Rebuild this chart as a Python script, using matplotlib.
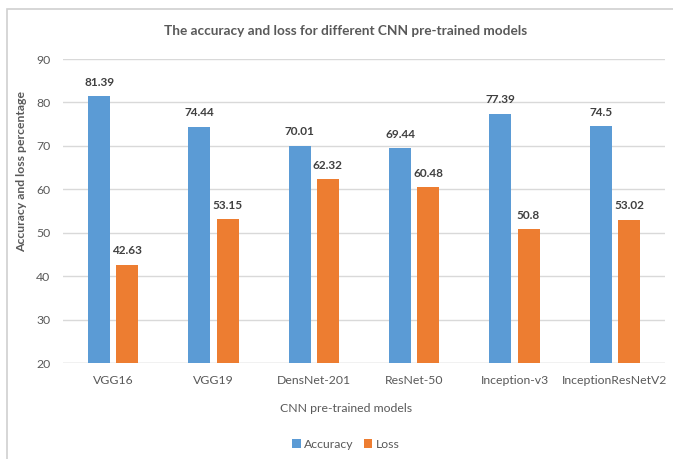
import numpy as np
import matplotlib.pyplot as plt
from matplotlib.patches import Rectangle

models = ["VGG16", "VGG19", "DensNet-201", "ResNet-50", "Inception-v3", "InceptionResNetV2"]
accuracy = [81.39, 74.44, 70.01, 69.44, 77.39, 74.5]
loss = [42.63, 53.15, 62.32, 60.48, 50.8, 53.02]
yticks = [20, 30, 40, 50, 60, 70, 80, 90]

plt.rcParams['font.family'] = ['Lato', 'DejaVu Sans']
text_color = "#595959"
center = 346 / 673

fig = plt.figure(figsize=(6.73, 4.59), dpi=100)
fig.patches.append(Rectangle((7 / 673, -0.1), 1.2, 1 - 9 / 459 + 0.1, transform=fig.transFigure,
                             fill=False, edgecolor="#d0d0d0", linewidth=1.2))
ax = fig.add_axes([63 / 673, 1 - 363 / 459, (665 - 63) / 673, (363 - 59) / 459])

x = np.arange(len(models))
w = 0.22
off = 0.14
b1 = ax.bar(x - off, [a - 20 for a in accuracy], w, bottom=20, color="#5b9bd5", label="Accuracy", zorder=3)
b2 = ax.bar(x + off, [l - 20 for l in loss], w, bottom=20, color="#ed7d31", label="Loss", zorder=3)

for xs, vals in ((x - off, accuracy), (x + off, loss)):
    for xi, v in zip(xs, vals):
        ax.annotate(f"{v:g}", (xi, v), xytext=(0, 6), textcoords="offset points",
                    ha="center", va="bottom", fontsize=8.5, fontweight="bold", color="#404040")

ax.set_xlim(-0.5, len(models) - 0.5)
ax.set_ylim(20, 90)
ax.set_yticks(yticks)
ax.set_xticks(x)
ax.set_xticklabels(models)
ax.tick_params(axis="both", length=0, labelsize=8.8, labelcolor=text_color, pad=9)
ax.grid(axis="y", color="#d9d9d9", linewidth=1, zorder=0)
for s in ax.spines.values():
    s.set_visible(False)
ax.axhline(20, color="#d9d9d9", linewidth=1, zorder=2)

ax.set_xlabel("CNN pre-trained models", fontsize=8.8, color=text_color)
ax.xaxis.set_label_coords((346 - 63) / 602, -(408 - 363) / 304)
ax.set_ylabel("Accuracy and loss percentage", fontsize=8.8, fontweight="bold", color=text_color)
ax.yaxis.set_label_coords(-(63 - 22) / 602, (363 - 171) / 304)
ax.xaxis.label.set_va("center")
ax.yaxis.label.set_va("center")
fig.text(center, 1 - 31 / 459, "The accuracy and loss for different CNN pre-trained models",
         ha="center", va="center", fontsize=9.8, fontweight="bold", color=text_color)

fig.legend(handles=[b1, b2], loc="center", bbox_to_anchor=(center, 1 - 444 / 459), ncol=2, frameon=False,
           fontsize=8.8, labelcolor=text_color, handlelength=0.7, handleheight=0.7, handletextpad=0.3,
           columnspacing=0.8)

fig.savefig("out.png", dpi=100)
